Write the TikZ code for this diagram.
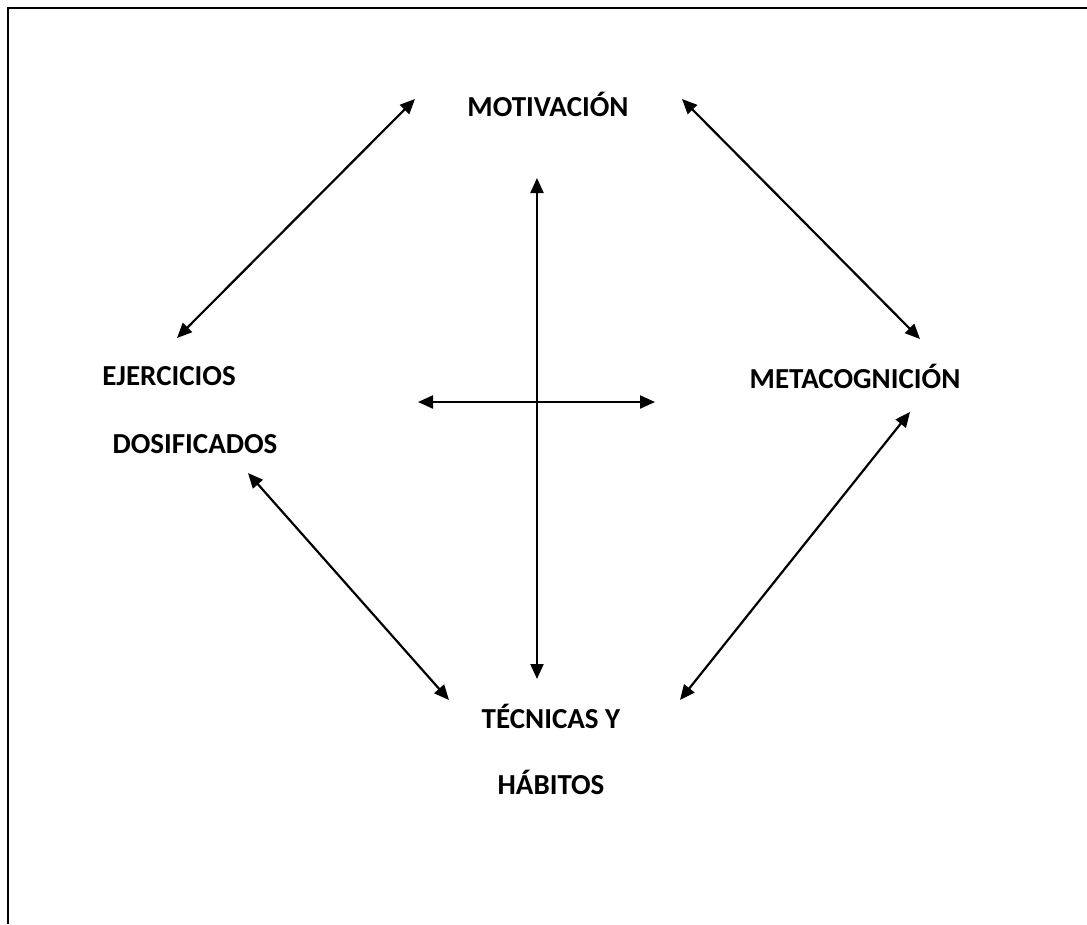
\documentclass[tikz,border=0pt]{standalone}
\usepackage{fontspec}
\setmainfont{Carlito}
\usetikzlibrary{arrows.meta,positioning}

\begin{document}
\begin{tikzpicture}[x=1pt,y=-1pt,
    lbl/.style={font=\fontsize{29}{34}\selectfont\bfseries, inner sep=0pt, anchor=center},
    link/.style={line width=2.2pt, {Triangle[length=15pt,width=13pt]}-{Triangle[length=15pt,width=13pt]}}]
        \useasboundingbox (0,0) rectangle (1087,924);
        \draw[line width=2.2pt] (8,924) -- (8,8) -- (1087,8);
        % conceptos
        \node[lbl] (mot) at (548,104) {MOTIVACIÓN};
        \node[lbl] (eje) at (169,376) {EJERCICIOS};
        \node[lbl] (dos) at (195,444) {DOSIFICADOS};
        \node[lbl] (met) at (855,376) {METACOGNICIÓN};
        \node[lbl] (tec) at (551,716) {TÉCNICAS Y};
        \node[lbl] (hab) at (551,782) {HÁBITOS};
        % extremos de las flechas
        \coordinate (motL) at (415,99);
        \coordinate (motR) at (682,99);
        \coordinate (ejeT) at (177,338);
        \coordinate (metT) at (920,339);
        \coordinate (metB) at (910,412);
        \coordinate (dosB) at (248,473);
        \coordinate (tecL) at (449,700);
        \coordinate (tecR) at (680,700);
        \coordinate (vtop) at (537,178);
        \coordinate (vbot) at (537,679);
        \coordinate (hl) at (418,402);
        \coordinate (hr) at (655,402);
        \draw[link] (motL) -- (ejeT);
        \draw[link] (motR) -- (metT);
        \draw[link] (metB) -- (tecR);
        \draw[link] (dosB) -- (tecL);
        \draw[link] (vtop) -- (vbot);
        \draw[link] (hl) -- (hr);
      \end{tikzpicture}
\end{document}
